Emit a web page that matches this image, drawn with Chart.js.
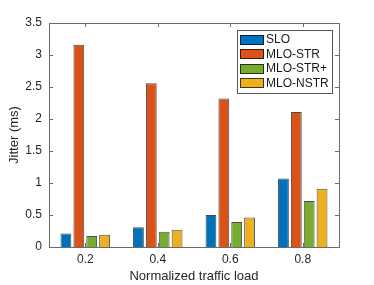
<!DOCTYPE html>
<html>
<head>
<meta charset="utf-8">
<script src="https://cdn.jsdelivr.net/npm/chart.js@4.4.1/dist/chart.umd.min.js"></script>
<style>
  html, body { margin: 0; padding: 0; background: #fff; }
  #wrap { width: 374px; height: 285px; }
</style>
</head>
<body>
<div id="wrap"><canvas id="jitterChart" width="374" height="285"></canvas></div>
<script>
/* ================= DATA ================= */
const loads = ['0.2', '0.4', '0.6', '0.8'];
const sloJitter = [0.21, 0.31, 0.50, 1.07];
const mloStrJitter = [3.16, 2.56, 2.32, 2.11];
const mloStrPlusJitter = [0.17, 0.24, 0.39, 0.72];
const mloNstrJitter = [0.19, 0.27, 0.46, 0.91];
const yTicks = [0, 0.5, 1, 1.5, 2, 2.5, 3, 3.5];

const FONT = 'Liberation Sans, Arial, Helvetica, sans-serif';
const AXIS_COLOR = '#6a6a6a';

/* ================= BOX + INWARD TICKS ================= */
const boxPlugin = {
  id: 'box',
  afterDatasetsDraw(chart) {
    const { ctx, chartArea: a, scales } = chart;
    ctx.save();
    ctx.strokeStyle = AXIS_COLOR;
    ctx.lineWidth = 1;
    ctx.beginPath();
    scales.y.ticks.forEach(t => {
      const py = Math.round(scales.y.getPixelForValue(t.value)) + 0.5;
      ctx.moveTo(a.left, py); ctx.lineTo(a.left + 4, py);
      ctx.moveTo(a.right, py); ctx.lineTo(a.right - 4, py);
    });
    scales.x.ticks.forEach((t, i) => {
      const px = Math.round(scales.x.getPixelForTick(i)) + 0.5;
      ctx.moveTo(px, a.bottom); ctx.lineTo(px, a.bottom - 4);
      ctx.moveTo(px, a.top); ctx.lineTo(px, a.top + 4);
    });
    ctx.stroke();
    ctx.strokeRect(Math.round(a.left) + 0.5, Math.round(a.top) + 0.5,
      Math.round(a.right - a.left), Math.round(a.bottom - a.top));
    ctx.restore();
  }
};

/* ================= LEGEND (boxed, top right) ================= */
const legendPlugin = {
  id: 'boxLegend',
  afterDraw(chart) {
    const { ctx, chartArea: a } = chart;
    const sets = chart.data.datasets;
    const rowH = 14.5, w = 95, pad = 2;
    const h = sets.length * rowH + pad * 2 + 1;
    const x0 = Math.round(a.right - 7 - w), y0 = Math.round(a.top + 7);
    ctx.save();
    ctx.fillStyle = '#fff';
    ctx.fillRect(x0, y0, w, h);
    ctx.strokeStyle = '#555';
    ctx.lineWidth = 1;
    ctx.strokeRect(x0 + 0.5, y0 + 0.5, w, h);
    ctx.font = '12px ' + FONT;
    ctx.textBaseline = 'middle';
    sets.forEach((ds, i) => {
      const cy = y0 + pad + rowH * i + rowH / 2 + 0.5;
      ctx.fillStyle = ds.backgroundColor;
      ctx.fillRect(x0 + 3, Math.round(cy - 5), 24, 10);
      ctx.strokeStyle = 'rgba(0,0,0,0.7)';
      ctx.strokeRect(x0 + 3.5, Math.round(cy - 5) + 0.5, 23, 9);
      ctx.fillStyle = '#1a1a1a';
      ctx.fillText(ds.label, x0 + 29, cy);
    });
    ctx.restore();
  }
};

/* ================= JITTER (BAR) ================= */
const jitterChart = new Chart(
  document.getElementById('jitterChart'),
  {
    type: 'bar',
    data: {
      labels: loads,
      datasets: [
        { label: 'SLO', data: sloJitter, backgroundColor: '#0072BD' },
        { label: 'MLO-STR', data: mloStrJitter, backgroundColor: '#D95319' },
        { label: 'MLO-STR+', data: mloStrPlusJitter, backgroundColor: '#77AC30' },
        { label: 'MLO-NSTR', data: mloNstrJitter, backgroundColor: '#EDB120' }
      ].map(ds => Object.assign(ds, {
        borderColor: 'rgba(0,0,0,0.7)',
        borderWidth: 1,
        categoryPercentage: 0.71,
        barPercentage: 0.84
      }))
    },
    options: {
      responsive: false,
      animation: false,
      layout: { padding: { top: 23, right: 35, left: 0, bottom: 0 } },
      plugins: {
        legend: { display: false },
        tooltip: { enabled: false }
      },
      scales: {
        x: {
          grid: { display: false, drawTicks: false },
          border: { display: false },
          ticks: { color: '#262626', font: { family: FONT, size: 12 }, padding: 5 },
          title: {
            display: true,
            text: 'Normalized traffic load',
            color: '#262626',
            font: { family: FONT, size: 13 },
            padding: { top: 0, bottom: 1 }
          },
          afterFit: s => { s.height = 38; }
        },
        y: {
          min: 0,
          max: 3.5,
          grid: { display: false, drawTicks: false },
          border: { display: false },
          afterBuildTicks: s => { s.ticks = yTicks.map(v => ({ value: v })); },
          ticks: {
            color: '#262626',
            font: { family: FONT, size: 12 },
            padding: 7,
            callback: v => String(v)
          },
          title: {
            display: true,
            text: 'Jitter (ms)',
            color: '#262626',
            font: { family: FONT, size: 13 },
            padding: { top: 7, bottom: 0 }
          },
          afterFit: s => { s.width = 49; }
        }
      }
    },
    plugins: [boxPlugin, legendPlugin]
  }
);
</script>
</body>
</html>
